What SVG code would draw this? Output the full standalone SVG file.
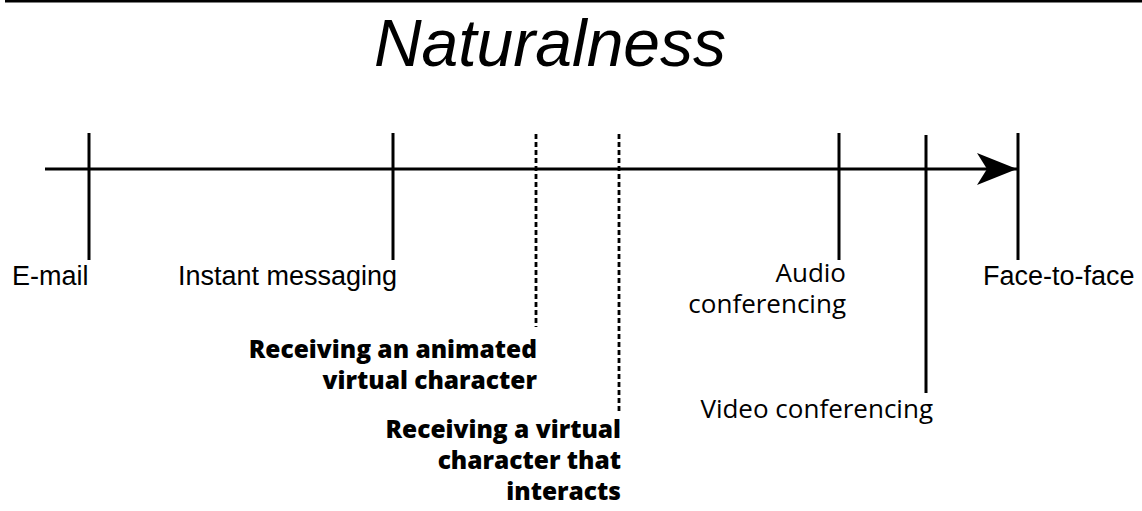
<svg xmlns="http://www.w3.org/2000/svg" width="1142" height="511" viewBox="0 0 1142 511">
<style>
.tick{stroke:#000;stroke-width:3;fill:none}
.dash{stroke:#000;stroke-width:2.8;stroke-dasharray:5 3;fill:none}
.sans{font-family:"Liberation Sans",Arial,sans-serif;font-size:27px;fill:#000}
.os{font-family:"Open Sans","Liberation Sans",sans-serif;font-size:26px;fill:#000}
.bold{font-family:"Open Sans","Liberation Sans",sans-serif;font-size:24.5px;font-weight:800;fill:#000}
</style>
<defs>
<marker id="arrow" markerUnits="userSpaceOnUse" markerWidth="42" markerHeight="34" refX="40" refY="16" orient="auto">
<path d="M0,0 L40,16 L0,32 L10,16 Z" fill="#000"/>
</marker>
</defs>
<rect x="5" y="0" width="1137" height="2.5" fill="#000"/>
<text x="550" y="66" text-anchor="middle" font-family="Liberation Sans, Arial, sans-serif" font-style="italic" font-size="66">Naturalness</text>
<g id="connectors">
<line x1="45" y1="169" x2="1017" y2="169" class="tick" marker-end="url(#arrow)"/>
</g>
<g id="email">
<line x1="89" y1="133" x2="89" y2="260" class="tick"/>
<text x="12" y="285" class="sans">E-mail</text>
</g>
<g id="im">
<line x1="393" y1="133" x2="393" y2="260" class="tick"/>
<text x="397" y="285" class="sans" text-anchor="end">Instant messaging</text>
</g>
<g id="animated">
<line x1="536" y1="134" x2="536" y2="327" class="dash"/>
<text class="bold" text-anchor="end"><tspan x="537" y="358">Receiving an animated</tspan><tspan x="537" y="389">virtual character</tspan></text>
</g>
<g id="interacts">
<line x1="619" y1="134" x2="619" y2="411" class="dash"/>
<text class="bold" text-anchor="end"><tspan x="621" y="438">Receiving a virtual</tspan><tspan x="621" y="469">character that</tspan><tspan x="621" y="500">interacts</tspan></text>
</g>
<g id="audio">
<line x1="839" y1="133" x2="839" y2="260" class="tick"/>
<text class="os" text-anchor="end"><tspan x="846" y="282">Audio</tspan><tspan x="846" y="313">conferencing</tspan></text>
</g>
<g id="video">
<line x1="926" y1="135" x2="926" y2="393" class="tick"/>
<text x="933" y="418" class="os" text-anchor="end">Video conferencing</text>
</g>
<g id="f2f">
<line x1="1018" y1="133" x2="1018" y2="260" class="tick"/>
<text x="983" y="285" class="sans">Face-to-face</text>
</g>
</svg>
